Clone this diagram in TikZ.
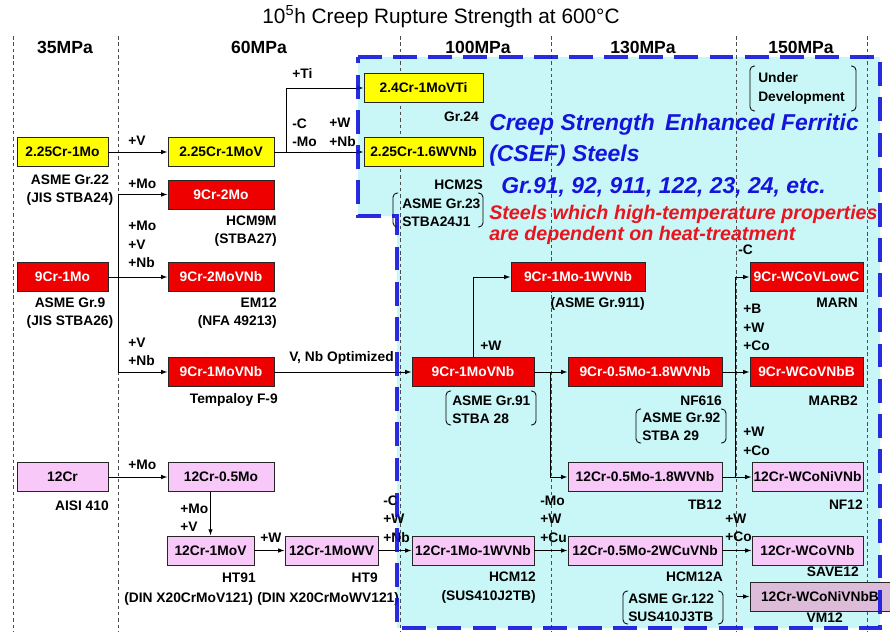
\documentclass[tikz,border=0pt]{standalone}
\usepackage{fontspec}
\setmainfont{Liberation Sans}
\usepackage{xcolor}
\usetikzlibrary{arrows.meta, positioning, calc}

\definecolor{boxyellow}{HTML}{FFFF00}
\definecolor{boxred}{HTML}{EE0000}
\definecolor{boxpink}{HTML}{F8C8F8}
\definecolor{boxmauve}{HTML}{DCBCD8}
\definecolor{cyanbg}{HTML}{C9F6F6}
\definecolor{csefblue}{HTML}{1414DC}
\definecolor{heatred}{HTML}{E8141E}

\begin{document}
\begin{tikzpicture}[
  x=0.025cm, y=-0.025cm,
  >={Latex[length=4.5pt, width=3.2pt]},
  steel/.style={draw=black!85, line width=0.6pt, minimum height=0.725cm, inner sep=0pt,
    font=\fontsize{9.8}{11}\selectfont\bfseries},
  lowcr/.style={steel, fill=boxyellow},
  ninecr/.style={steel, fill=boxred, text=white},
  twelvecr/.style={steel, fill=boxpink},
  lbl/.style={inner sep=0pt, align=left, font=\fontsize{9.8}{13.1}\selectfont\bfseries},
  conn/.style={->, line width=0.7pt},
  colline/.style={gray!60!black, line width=0.5pt, dash pattern=on 2.5pt off 2pt},
  paren/.style={line width=0.6pt, rounded corners=3pt},
  header/.style={inner sep=0pt, font=\fontsize{12.5}{14}\selectfont\bfseries},
  csef/.style={inner sep=0pt, text=csefblue, font=\fontsize{16.3}{18}\selectfont\bfseries\itshape},
  heat/.style={inner sep=0pt, text=heatred, font=\fontsize{14}{16}\selectfont\bfseries\itshape},
]
\useasboundingbox (0,0) rectangle (890,632);

% --- CSEF region (background) ---
\fill[cyanbg] (358,57) -- (880,57) -- (880,628) -- (397,628) -- (397,216) -- (358,216) -- cycle;

% --- Title and strength columns ---
\node[inner sep=0pt, anchor=base, font=\fontsize{14.8}{16}\selectfont] (title) at (441,23)
  {10\textsuperscript{5}h Creep Rupture Strength at 600°C};
\foreach \x in {13,118,400,551,736,867}
  \draw[colline] (\x,36) -- (\x,632);
\foreach \x/\t in {65/35MPa, 259/60MPa, 478/100MPa, 643/130MPa, 801/150MPa}
  \node[header, anchor=base] (h\t) at (\x,53) {\t};

% --- 2.25Cr steels ---
\node[lowcr, minimum width=2.275cm] (c22Mo) at (62.5,152) {2.25Cr-1Mo};
\node[lowcr, minimum width=2.65cm] (c22MoV) at (221,152) {2.25Cr-1MoV};
\node[lowcr, minimum width=2.975cm] (c24MoVTi) at (423.5,88) {2.4Cr-1MoVTi};
\node[lowcr, minimum width=2.975cm] (c22WVNb) at (423.5,152) {2.25Cr-1.6WVNb};

% --- 9Cr steels ---
\node[ninecr, minimum width=2.65cm] (c9Mo2) at (221,194.5) {9Cr-2Mo};
\node[ninecr, minimum width=2.275cm] (c9Mo) at (62.5,277) {9Cr-1Mo};
\node[ninecr, minimum width=2.65cm] (c9MoVNb2) at (221,277) {9Cr-2MoVNb};
\node[ninecr, minimum width=2.65cm] (c9F9) at (221,372) {9Cr-1MoVNb};
\node[ninecr, minimum width=3.05cm] (c91) at (473,372) {9Cr-1MoVNb};
\node[ninecr, minimum width=3.35cm] (c911) at (578,277) {9Cr-1Mo-1WVNb};
\node[ninecr, minimum width=3.85cm] (c92) at (645,372) {9Cr-0.5Mo-1.8WVNb};
\node[ninecr, minimum width=2.825cm] (cMARN) at (806.5,277) {9Cr-WCoVLowC};
\node[ninecr, minimum width=2.825cm] (cMARB) at (806.5,372) {9Cr-WCoVNbB};

% --- 12Cr steels ---
\node[twelvecr, minimum width=2.275cm] (c12) at (62.5,477) {12Cr};
\node[twelvecr, minimum width=2.65cm] (c12Mo) at (221,477) {12Cr-0.5Mo};
\node[twelvecr, minimum width=2.175cm] (c12MoV) at (210.5,550.5) {12Cr-1MoV};
\node[twelvecr, minimum width=2.325cm] (c12MoWV) at (331.5,550.5) {12Cr-1MoWV};
\node[twelvecr, minimum width=3.05cm] (c12W) at (473,550.5) {12Cr-1Mo-1WVNb};
\node[twelvecr, minimum width=3.85cm] (c122) at (645,550.5) {12Cr-0.5Mo-2WCuVNb};
\node[twelvecr, minimum width=2.775cm] (cSAVE) at (807.5,550.5) {12Cr-WCoVNb};
\node[twelvecr, minimum width=3.85cm] (cTB) at (645,477) {12Cr-0.5Mo-1.8WVNb};
\node[twelvecr, minimum width=2.775cm] (cNF12) at (807.5,477) {12Cr-WCoNiVNb};
\node[twelvecr, fill=boxmauve, minimum width=3.5cm] (cVM) at (820,596.5) {12Cr-WCoNiVNbB};

% --- Connectors ---
\draw[conn] (c22Mo) -- (c22MoV);
\draw[conn] (c22MoV) -- (c22WVNb);
\coordinate (jTi) at (286,152);
\draw[conn] (jTi) |- (c24MoVTi.west);

\coordinate (j9) at (118,277);
\draw[conn] (c9Mo) -- (c9MoVNb2);
\draw[conn] (j9) |- (c9Mo2.west);
\draw[conn] (j9) |- (c9F9.west);
\draw[conn] (c9F9) -- (c91);
\draw[conn] (c91.north) |- (c911.west);
\coordinate (j92) at (550,372);
\draw[conn] (c91) -- (c92);
\draw[conn] (j92) |- (cTB.west);
\coordinate (jMar) at (735,372);
\draw[conn] (c92) -- (cMARB);
\draw[conn] (jMar) |- (cMARN.west);
\draw[line width=0.7pt] (jMar) -- (jMar |- cNF12.west);
\draw[conn] (cTB) -- (cNF12);

\draw[conn] (c12) -- (c12Mo);
\draw[conn] (c12MoV.north |- c12Mo.south) -- (c12MoV.north);
\draw[conn] (c12MoV) -- (c12MoWV);
\draw[conn] (c12MoWV) -- (c12W);
\draw[conn] (c12W) -- (c122);
\draw[conn] (c122) -- (cSAVE);
\coordinate (jVM) at (737,596.5);
\draw[conn] (jVM) -- (cVM);

% --- Alloying labels ---
\node[lbl, anchor=west] (tTi) at (292,74) {+Ti};
\node[lbl, anchor=west] (tCMo) at (292,132.5) {-C\\-Mo};
\node[lbl, anchor=west] (tWNb) at (329,132.5) {+W\\+Nb};
\node[lbl, anchor=west] (tV) at (128,141) {+V};
\node[lbl, anchor=west] (tMo) at (128,184) {+Mo};
\node[lbl, anchor=west] (tMoVNb) at (128,244.5) {+Mo\\+V\\+Nb};
\node[lbl, anchor=west] (tVNb) at (128,352) {+V\\+Nb};
\node[lbl, anchor=west] (tOpt) at (289,358) {V, Nb Optimized};
\node[lbl, anchor=west] (tW) at (480,346) {+W};
\node[lbl, anchor=west] (tC) at (738,250) {-C};
\node[lbl, anchor=west] (tBWCo) at (743,327.5) {+B\\+W\\+Co};
\node[lbl, anchor=west] (tWCo) at (743,441.5) {+W\\+Co};
\node[lbl, anchor=west] (tMo12) at (128,465) {+Mo};
\node[lbl, anchor=west] (tMoV) at (180,517.5) {+Mo\\+V};
\node[lbl, anchor=west] (tW12) at (260,538) {+W};
\node[lbl, anchor=west] (tCWNb) at (383,519) {-C\\+W\\+Nb};
\node[lbl, anchor=west] (tMoWCu) at (540,519) {-Mo\\+W\\+Cu};
\node[lbl, anchor=west] (tWCo12) at (725,528) {+W\\+Co};

% --- Grade names ---
\node[lbl, align=center] (gG22) at (70,190) {ASME Gr.22\\(JIS STBA24)};
\node[lbl, align=center] (gG9) at (70,313) {ASME Gr.9\\(JIS STBA26)};
\node[lbl, anchor=east] (gAISI) at (109,506) {AISI 410};
\node[lbl, anchor=east, align=right] (gHCM9M) at (277,231) {HCM9M\\(STBA27)};
\node[lbl, anchor=east, align=right] (gEM12) at (277,313) {EM12\\(NFA 49213)};
\node[lbl, anchor=east] (gF9) at (278,400) {Tempaloy F-9};
\node[lbl, anchor=east] (gG24) at (479,117) {Gr.24};
\node[lbl, anchor=east] (gHCM2S) at (483,185) {HCM2S};
\node[lbl, anchor=west] (gG23) at (402,212.5) {ASME Gr.23\\STBA24J1};
\node[lbl, anchor=east] (gG911) at (645,304) {(ASME Gr.911)};
\node[lbl, anchor=east] (gMARN) at (858,303) {MARN};
\node[lbl, anchor=east] (gMARB) at (858,401) {MARB2};
\node[lbl, anchor=east] (gNF616) at (722,401) {NF616};
\node[lbl, anchor=west] (gG92) at (642,427) {ASME Gr.92\\STBA 29};
\node[lbl, anchor=west] (gG91) at (452,410) {ASME Gr.91\\STBA 28};
\node[lbl, anchor=east] (gTB12) at (722,505) {TB12};
\node[lbl, anchor=east] (gNF12) at (863,505) {NF12};
\node[lbl, anchor=east] (gHT91) at (256,578) {HT91};
\node[lbl, anchor=west] (gDIN1) at (124,599) {(DIN X20CrMoV121)};
\node[lbl, anchor=east] (gHT9) at (378,578) {HT9};
\node[lbl, anchor=west] (gDIN2) at (257,599) {(DIN X20CrMoWV121)};
\node[lbl, anchor=east, align=right] (gHCM12) at (536,587.5) {HCM12\\(SUS410J2TB)};
\node[lbl, anchor=east] (gHCM12A) at (723,577) {HCM12A};
\node[lbl, anchor=west] (gG122) at (628,608) {ASME Gr.122\\SUS410J3TB};
\node[lbl, anchor=east] (gSAVE) at (859,572) {SAVE12};
\node[lbl, anchor=east] (gVM12) at (843,618) {VM12};
\node[lbl, anchor=west] (gDev) at (758,88.5) {Under\\Development};

% brackets round the grade pairs
\foreach \xl/\xr/\yt/\yb in {393/483/193/227, 446/536/391/425, 636/726/409/443,
                             623/723/591/624, 750/856/66/111} {
  \draw[paren] (\xl+5,\yt) -- (\xl,\yt) -- (\xl,\yb) -- (\xl+5,\yb);
  \draw[paren] (\xr-5,\yt) -- (\xr,\yt) -- (\xr,\yb) -- (\xr-5,\yb);
}

% --- CSEF text ---
\node[csef, anchor=base west] (cs1) at (489,130) {Creep Strength\hspace{0.45em}Enhanced Ferritic};
\node[csef, anchor=base west] (cs2) at (489,161) {(CSEF) Steels};
\node[csef, anchor=base west] (cs3) at (501,193) {Gr.91, 92, 911, 122, 23, 24, etc.};
\node[heat, anchor=base west] (ht1) at (489,219) {Steels which high-temperature properties};
\node[heat, anchor=base west] (ht2) at (489,240) {are dependent on heat-treatment};

% --- CSEF region (outline) ---
\draw[csefblue, opacity=0.9, line width=2.8pt, dash pattern=on 17pt off 8pt]
  (358,57) -- (880,57) -- (880,628) -- (397,628) -- (397,216) -- (358,216) -- cycle;

\end{tikzpicture}
\end{document}
